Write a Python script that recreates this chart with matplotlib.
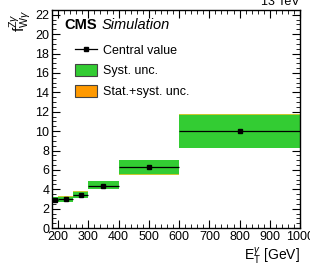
import matplotlib
matplotlib.use("Agg")
import matplotlib.pyplot as plt
from matplotlib.patches import Rectangle
from matplotlib.lines import Line2D
from matplotlib.ticker import MultipleLocator

plt.rcParams['font.family'] = ['Liberation Sans', 'DejaVu Sans']
plt.rcParams['mathtext.fontset'] = 'custom'
plt.rcParams['mathtext.rm'] = 'Liberation Sans'
plt.rcParams['mathtext.it'] = 'Liberation Sans:italic'

bin_low = [180, 200, 250, 300, 400, 600]
bin_high = [200, 250, 300, 400, 600, 1000]
central = [2.93, 3.0, 3.45, 4.38, 6.3, 10.0]
syst_up = [3.2, 3.25, 3.76, 4.83, 7.0, 11.7]
syst_down = [2.64, 2.73, 3.14, 4.0, 5.55, 8.27]
tot_up = [3.22, 3.27, 3.78, 4.85, 7.03, 11.75]
tot_down = [2.62, 2.71, 3.12, 3.98, 5.52, 8.22]

green = '#33cc33'
orange = '#ff9900'

fig = plt.figure(figsize=(3.10, 2.68), dpi=100)
ax = fig.add_axes([0.168, 0.149, 0.800, 0.814])

for lo, hi, up, dn in zip(bin_low, bin_high, tot_up, tot_down):
    ax.add_patch(Rectangle((lo, dn), hi - lo, up - dn, facecolor='#c8c830', edgecolor='none', zorder=1))
for lo, hi, up, dn in zip(bin_low, bin_high, syst_up, syst_down):
    ax.add_patch(Rectangle((lo, dn), hi - lo, up - dn, facecolor=green, edgecolor='none', zorder=2))

centers = [(lo + hi) / 2 for lo, hi in zip(bin_low, bin_high)]
xerr = [[c - lo for c, lo in zip(centers, bin_low)], [hi - c for c, hi in zip(centers, bin_high)]]
ax.errorbar(centers, central, xerr=xerr, fmt='s', color='black', ms=3, lw=0.9, capsize=0, zorder=3)

ax.set_xlim(180, 1000)
ax.set_ylim(0, 22.5)
ax.xaxis.set_major_locator(MultipleLocator(100))
ax.xaxis.set_minor_locator(MultipleLocator(20))
ax.yaxis.set_major_locator(MultipleLocator(2))
ax.yaxis.set_minor_locator(MultipleLocator(0.5))
ax.tick_params(which='both', direction='in', top=True, right=True, labelsize=9, pad=2)
ax.tick_params(which='major', length=6, width=0.8)
ax.tick_params(which='minor', length=3, width=0.6)
ax.set_xticks([200, 300, 400, 500, 600, 700, 800, 900, 1000])
for sp in ax.spines.values():
    sp.set_linewidth(1.0)

ax.set_xlabel(r'E$_\mathrm{T}^{\gamma}$ [GeV]', fontsize=10, loc='right', labelpad=2)
ax.set_ylabel(r'f$^{\mathrm{Z}\gamma}_{\mathrm{W}\gamma}$', fontsize=11, loc='top', labelpad=2)

ax.text(0.05, 0.965, 'CMS', transform=ax.transAxes, fontsize=10.5, fontweight='bold', va='top', ha='left')
ax.text(0.198, 0.965, 'Simulation', transform=ax.transAxes, fontsize=10.5, style='italic', va='top', ha='left')
ax.text(1.0, 1.01, '13 TeV', transform=ax.transAxes, fontsize=9, va='bottom', ha='right')

handles = [
    Line2D([0], [0], color='black', marker='s', ms=3, lw=0.9),
    Rectangle((0, 0), 1, 1, facecolor=green, edgecolor='#444444', lw=0.8),
    Rectangle((0, 0), 1, 1, facecolor=orange, edgecolor='#444444', lw=0.8),
]
labels = ['Central value', 'Syst. unc.', 'Stat.+syst. unc.']
ax.legend(handles, labels, loc='upper left', bbox_to_anchor=(0.073, 0.868), frameon=False,
          fontsize=9, handlelength=1.76, handleheight=1.1, labelspacing=0.58, handletextpad=0.48,
          borderaxespad=0)

fig.savefig('out.png', dpi=100)
